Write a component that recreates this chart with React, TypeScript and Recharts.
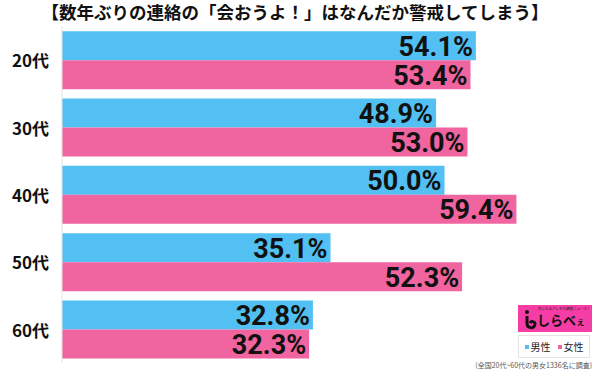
import React from "react";
import { BarChart, Bar, XAxis, YAxis, LabelList } from "recharts";

const categories = ["20代", "30代", "40代", "50代", "60代"];
const maleValues = [54.1, 48.9, 50.0, 35.1, 32.8];
const femaleValues = [53.4, 53.0, 59.4, 52.3, 32.3];
const seriesNames = ["男性", "女性"];
const title = "【数年ぶりの連絡の「会おうよ！」はなんだか警戒してしまう】";
const footnote = "(全国20代~60代の男女1336名に調査)";

const data = categories.map((c, i) => ({ name: c, male: maleValues[i], female: femaleValues[i] }));

const BLUE = "#52C0F2";
const PINK = "#F0649F";
const JP = "'Noto Sans CJK JP', 'Noto Sans', sans-serif";
const NUM = "Roboto, 'Noto Sans', sans-serif";

const ValueLabel = (props: any) => {
  const { x, y, width, height, value } = props;
  return (
    <text
      x={x + width - 3}
      y={y + height / 2 + 1}
      textAnchor="end"
      dominantBaseline="central"
      fontFamily={NUM}
      fontWeight={700}
      fontSize={27}
      fill="#111"
    >
      {Number(value).toFixed(1)}%
    </text>
  );
};

const CatTick = (props: any) => {
  const { y, payload } = props;
  return (
    <text x={49} y={y} textAnchor="end" dominantBaseline="central" fontFamily={JP} fontWeight={700} fontSize={17} fill="#111">
      {payload.value}
    </text>
  );
};

export default function App() {
  return (
    <div style={{ position: "absolute", left: 0, top: 0, width: 600, height: 376, background: "#fff" }}>
      <div
        style={{
          position: "absolute",
          left: 0,
          top: 1,
          width: 590,
          textAlign: "center",
          fontFamily: JP,
          fontWeight: 700,
          fontSize: 17.5,
          color: "#111",
          lineHeight: "22px",
          whiteSpace: "nowrap",
        }}
      >
        {title}
      </div>
      <BarChart
        width={600}
        height={376}
        data={data}
        layout="vertical"
        margin={{ top: 26.25, right: 2.5, bottom: 13.25, left: 0 }}
        barGap={0}
        barSize={29}
      >
        <XAxis type="number" domain={[0, 70]} hide />
        <YAxis
          type="category"
          dataKey="name"
          width={62}
          axisLine={{ stroke: "#e2e2e2" }}
          tickLine={false}
          tick={<CatTick />}
        />
        <Bar dataKey="male" name={seriesNames[0]} fill={BLUE} isAnimationActive={false}>
          <LabelList dataKey="male" content={<ValueLabel />} />
        </Bar>
        <Bar dataKey="female" name={seriesNames[1]} fill={PINK} isAnimationActive={false}>
          <LabelList dataKey="female" content={<ValueLabel />} />
        </Bar>
      </BarChart>
      {/* logo */}
      <div
        style={{
          position: "absolute",
          left: 518,
          top: 305,
          width: 74,
          height: 27,
          background: "#F53DA5",
          overflow: "hidden",
        }}
      >
        <div style={{ position: "absolute", left: 20, top: 1, fontSize: 3.5, fontFamily: JP, color: "#222", whiteSpace: "nowrap", lineHeight: "5px" }}>
          気になるアレを大調査ニュース！
        </div>
        <svg width={16} height={22} style={{ position: "absolute", left: 3, top: 4 }}>
          <circle cx={6} cy={3} r={2} fill="#111" />
          <path d="M6 7 L6 14 C6 20 14 20 14 15 C14 12 10 12 9 14" stroke="#111" strokeWidth={3} fill="none" />
        </svg>
        <div style={{ position: "absolute", left: 19, top: 6, fontSize: 13, fontWeight: 700, fontFamily: JP, color: "#111", whiteSpace: "nowrap", lineHeight: "18px" }}>
          しらべ<span style={{ fontSize: 9 }}>ぇ</span>
        </div>
      </div>
      {/* legend */}
      <div
        style={{
          position: "absolute",
          left: 518,
          top: 335,
          width: 72,
          height: 23,
          border: "1px solid #e4e4e4",
          boxSizing: "border-box",
          background: "#fff",
          fontFamily: JP,
          fontSize: 10,
          color: "#222",
          display: "flex",
          alignItems: "center",
          justifyContent: "center",
          gap: 7,
        }}
      >
        <span style={{ display: "flex", alignItems: "center" }}>
          <span style={{ width: 4, height: 4, background: BLUE, marginRight: 2 }} />
          {seriesNames[0]}
        </span>
        <span style={{ display: "flex", alignItems: "center" }}>
          <span style={{ width: 4, height: 4, background: PINK, marginRight: 2 }} />
          {seriesNames[1]}
        </span>
      </div>
      <div
        style={{
          position: "absolute",
          right: 8,
          top: 361,
          fontFamily: JP,
          fontSize: 7,
          color: "#555",
          whiteSpace: "nowrap",
          lineHeight: "9px",
        }}
      >
        {footnote}
      </div>
    </div>
  );
}
